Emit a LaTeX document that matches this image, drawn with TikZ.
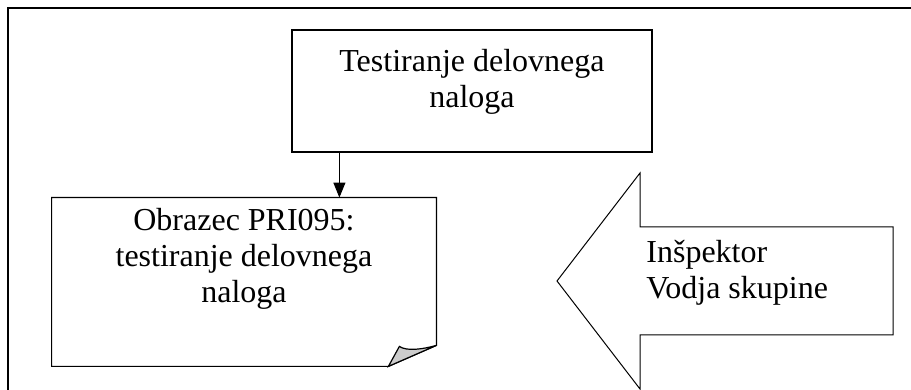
\documentclass[tikz,border=0pt]{standalone}
\usepackage{fontspec}
\setmainfont{Liberation Serif}
\usetikzlibrary{calc}
\usetikzlibrary{arrows.meta}

\begin{document}
\begin{tikzpicture}[x=0.5pt,y=0.5pt,
  box/.style={draw,line width=0.6pt,inner sep=0pt},
  boxtext/.style={inner sep=0pt,align=center,font=\fontsize{16}{18}\selectfont},
  edge/.style={line width=0.5pt,-{Triangle[length=7.5pt,width=6pt]}}]
\useasboundingbox (0,0) rectangle (911,390);

% frame
\draw[line width=0.8pt] (8,0) -- (8,382) -- (911,382);

\node[box,minimum width=180pt,minimum height=61pt] (task) at (472,299) {};
\node[boxtext,anchor=north] (tasktext) at ($(task.north)+(0,-20)$) {Testiranje delovnega\\naloga};

% document with folded corner
\node[inner sep=0pt,minimum width=192pt,minimum height=84pt] (form) at (244,108) {};
\draw[line width=0.6pt] (form.north west) -- (form.north east) -- ($(form.south east)+(0,21)$)
  -- ($(form.south east)+(-48,0)$) -- (form.south west) -- cycle;
\filldraw[fill=black!20,line width=0.6pt] ($(form.south east)+(-48,0)$) -- ($(form.south east)+(-37,20)$)
  .. controls ($(form.south east)+(-30,15)$) and ($(form.south east)+(-14,17)$) .. ($(form.south east)+(0,21)$) -- cycle;
\node[boxtext,anchor=north] (formtext) at ($(form.north)+(0,-10)$) {Obrazec PRI095:\\testiranje delovnega\\naloga};

\coordinate (drop) at ($(task.south west)+(48,0)$);
\draw[edge] (drop) -- (drop |- form.north);

% big arrow
\draw[line width=0.5pt] (557,109) -- (640,217) -- (640,163) -- (893,163) -- (893,55) -- (640,55) -- (640,1) -- cycle;
\node[boxtext,align=left,anchor=north west] (roles) at (646,150) {Inšpektor\\Vodja skupine};

\end{tikzpicture}
\end{document}
